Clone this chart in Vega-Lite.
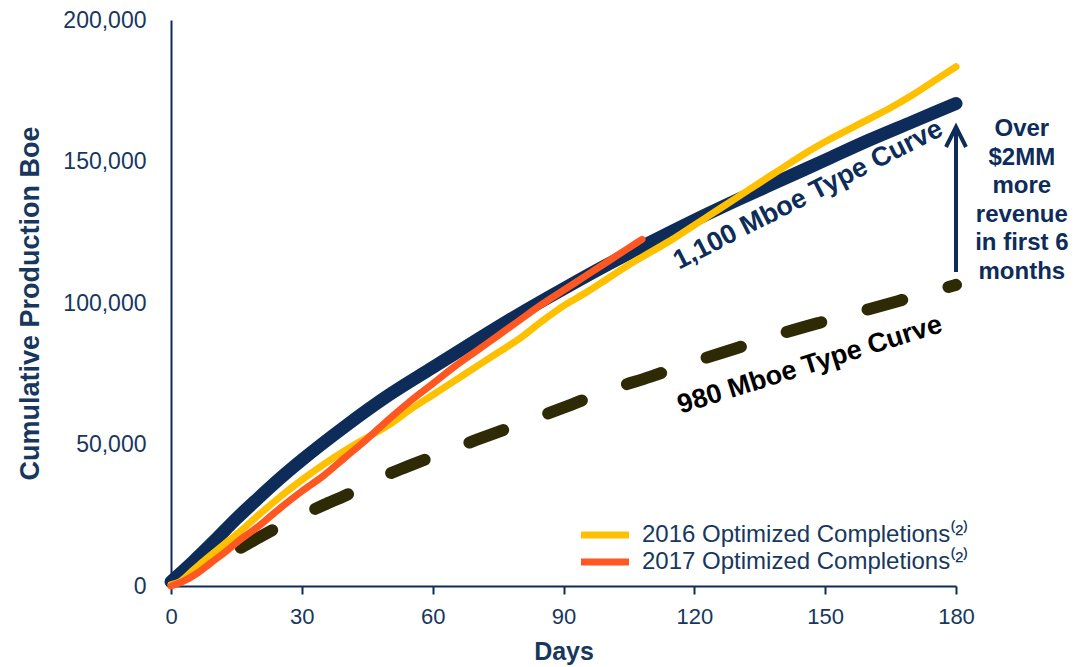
{
  "$schema": "https://vega.github.io/schema/vega-lite/v6.json",
  "width": 785,
  "height": 566,
  "autosize": {"type": "none"},
  "padding": {"left": 171, "top": 20, "right": 134, "bottom": 81},
  "background": "white",
  "config": {"view": {"stroke": null}, "font": "Liberation Sans"},
  "datasets": {
    "tc1100": [
      {"day": 0, "boe": 1500}, {"day": 5, "boe": 8500}, {"day": 10, "boe": 16000}, {"day": 15, "boe": 23800},
      {"day": 20, "boe": 31000}, {"day": 25, "boe": 38000}, {"day": 30, "boe": 44500}, {"day": 40, "boe": 56500},
      {"day": 50, "boe": 67500}, {"day": 60, "boe": 77200}, {"day": 70, "boe": 86800}, {"day": 80, "boe": 96200},
      {"day": 90, "boe": 105000}, {"day": 100, "boe": 113500}, {"day": 110, "boe": 121500}, {"day": 120, "boe": 129200},
      {"day": 130, "boe": 136500}, {"day": 140, "boe": 143500}, {"day": 150, "boe": 150500}, {"day": 160, "boe": 157500},
      {"day": 170, "boe": 164000}, {"day": 180, "boe": 170500}
    ],
    "tc980": [
      {"day": 16, "boe": 13500}, {"day": 20, "boe": 17000}, {"day": 25, "boe": 21200}, {"day": 30, "boe": 25000},
      {"day": 35, "boe": 28600}, {"day": 40, "boe": 32000}, {"day": 45, "boe": 35700}, {"day": 50, "boe": 39600},
      {"day": 55, "boe": 42700}, {"day": 60, "boe": 45700}, {"day": 70, "boe": 51600}, {"day": 80, "boe": 57300},
      {"day": 90, "boe": 63000}, {"day": 100, "boe": 69000}, {"day": 110, "boe": 74000}, {"day": 120, "boe": 79300},
      {"day": 130, "boe": 84200}, {"day": 140, "boe": 89200}, {"day": 150, "boe": 93600}, {"day": 160, "boe": 97800},
      {"day": 170, "boe": 102100}, {"day": 180, "boe": 106400}
    ],
    "wells": [
      {"series": "2016 Optimized Completions⁽²⁾", "day": 0, "boe": 500},
      {"series": "2016 Optimized Completions⁽²⁾", "day": 2, "boe": 1500},
      {"series": "2016 Optimized Completions⁽²⁾", "day": 5, "boe": 5500},
      {"series": "2016 Optimized Completions⁽²⁾", "day": 8, "boe": 9500},
      {"series": "2016 Optimized Completions⁽²⁾", "day": 12, "boe": 14500},
      {"series": "2016 Optimized Completions⁽²⁾", "day": 16, "boe": 19500},
      {"series": "2016 Optimized Completions⁽²⁾", "day": 20, "boe": 25000},
      {"series": "2016 Optimized Completions⁽²⁾", "day": 25, "boe": 31500},
      {"series": "2016 Optimized Completions⁽²⁾", "day": 30, "boe": 37500},
      {"series": "2016 Optimized Completions⁽²⁾", "day": 35, "boe": 43000},
      {"series": "2016 Optimized Completions⁽²⁾", "day": 40, "boe": 48000},
      {"series": "2016 Optimized Completions⁽²⁾", "day": 45, "boe": 52500},
      {"series": "2016 Optimized Completions⁽²⁾", "day": 50, "boe": 57000},
      {"series": "2016 Optimized Completions⁽²⁾", "day": 55, "boe": 62500},
      {"series": "2016 Optimized Completions⁽²⁾", "day": 60, "boe": 67500},
      {"series": "2016 Optimized Completions⁽²⁾", "day": 65, "boe": 72500},
      {"series": "2016 Optimized Completions⁽²⁾", "day": 70, "boe": 77500},
      {"series": "2016 Optimized Completions⁽²⁾", "day": 75, "boe": 82500},
      {"series": "2016 Optimized Completions⁽²⁾", "day": 80, "boe": 87500},
      {"series": "2016 Optimized Completions⁽²⁾", "day": 85, "boe": 93500},
      {"series": "2016 Optimized Completions⁽²⁾", "day": 90, "boe": 99000},
      {"series": "2016 Optimized Completions⁽²⁾", "day": 95, "boe": 103500},
      {"series": "2016 Optimized Completions⁽²⁾", "day": 100, "boe": 108500},
      {"series": "2016 Optimized Completions⁽²⁾", "day": 105, "boe": 113500},
      {"series": "2016 Optimized Completions⁽²⁾", "day": 110, "boe": 118000},
      {"series": "2016 Optimized Completions⁽²⁾", "day": 115, "boe": 122500},
      {"series": "2016 Optimized Completions⁽²⁾", "day": 120, "boe": 127500},
      {"series": "2016 Optimized Completions⁽²⁾", "day": 125, "boe": 132500},
      {"series": "2016 Optimized Completions⁽²⁾", "day": 130, "boe": 137500},
      {"series": "2016 Optimized Completions⁽²⁾", "day": 135, "boe": 142500},
      {"series": "2016 Optimized Completions⁽²⁾", "day": 140, "boe": 147500},
      {"series": "2016 Optimized Completions⁽²⁾", "day": 145, "boe": 152500},
      {"series": "2016 Optimized Completions⁽²⁾", "day": 150, "boe": 157000},
      {"series": "2016 Optimized Completions⁽²⁾", "day": 155, "boe": 161000},
      {"series": "2016 Optimized Completions⁽²⁾", "day": 160, "boe": 165000},
      {"series": "2016 Optimized Completions⁽²⁾", "day": 165, "boe": 169000},
      {"series": "2016 Optimized Completions⁽²⁾", "day": 170, "boe": 173500},
      {"series": "2016 Optimized Completions⁽²⁾", "day": 175, "boe": 178500},
      {"series": "2016 Optimized Completions⁽²⁾", "day": 180, "boe": 183500},
      {"series": "2017 Optimized Completions⁽²⁾", "day": 0, "boe": 0},
      {"series": "2017 Optimized Completions⁽²⁾", "day": 3, "boe": 1800},
      {"series": "2017 Optimized Completions⁽²⁾", "day": 6, "boe": 4500},
      {"series": "2017 Optimized Completions⁽²⁾", "day": 9, "boe": 8000},
      {"series": "2017 Optimized Completions⁽²⁾", "day": 12, "boe": 11500},
      {"series": "2017 Optimized Completions⁽²⁾", "day": 16, "boe": 16500},
      {"series": "2017 Optimized Completions⁽²⁾", "day": 20, "boe": 21000},
      {"series": "2017 Optimized Completions⁽²⁾", "day": 25, "boe": 27500},
      {"series": "2017 Optimized Completions⁽²⁾", "day": 30, "boe": 33500},
      {"series": "2017 Optimized Completions⁽²⁾", "day": 35, "boe": 39000},
      {"series": "2017 Optimized Completions⁽²⁾", "day": 40, "boe": 45500},
      {"series": "2017 Optimized Completions⁽²⁾", "day": 45, "boe": 52000},
      {"series": "2017 Optimized Completions⁽²⁾", "day": 50, "boe": 59000},
      {"series": "2017 Optimized Completions⁽²⁾", "day": 55, "boe": 65500},
      {"series": "2017 Optimized Completions⁽²⁾", "day": 60, "boe": 71500},
      {"series": "2017 Optimized Completions⁽²⁾", "day": 65, "boe": 77500},
      {"series": "2017 Optimized Completions⁽²⁾", "day": 70, "boe": 83000},
      {"series": "2017 Optimized Completions⁽²⁾", "day": 75, "boe": 88500},
      {"series": "2017 Optimized Completions⁽²⁾", "day": 80, "boe": 94000},
      {"series": "2017 Optimized Completions⁽²⁾", "day": 85, "boe": 99500},
      {"series": "2017 Optimized Completions⁽²⁾", "day": 90, "boe": 104500},
      {"series": "2017 Optimized Completions⁽²⁾", "day": 95, "boe": 109500},
      {"series": "2017 Optimized Completions⁽²⁾", "day": 100, "boe": 114500},
      {"series": "2017 Optimized Completions⁽²⁾", "day": 104, "boe": 118500},
      {"series": "2017 Optimized Completions⁽²⁾", "day": 108, "boe": 122500}
    ],
    "arrow": [{"day": 180, "boe": 110950, "boe2": 161200, "tip": 158660}],
    "label1100": [{"day": 146.1, "boe": 138200, "label": "1,100 Mboe Type Curve"}],
    "label980": [{"day": 146.5, "boe": 78100, "label": "980 Mboe Type Curve"}],
    "note": [{"day": 195.1, "boe": 161500, "label": "Over\n$2MM\nmore\nrevenue\nin first 6\nmonths"}]
  },
  "layer": [
    {
      "data": {"name": "tc980"},
      "mark": {"type": "line", "color": "#2f2a06", "strokeWidth": 12, "strokeDash": [36, 48], "strokeCap": "round", "interpolate": "monotone"},
      "encoding": {
        "x": {
          "field": "day", "type": "quantitative",
          "scale": {"domain": [0, 180], "nice": false},
          "axis": {
            "title": "Days", "values": [0, 30, 60, 90, 120, 150, 180], "grid": false,
            "domainColor": "#0d2c59", "domainWidth": 2, "tickColor": "#0d2c59", "tickWidth": 2, "tickSize": 8,
            "labelFont": "Liberation Sans", "labelFontSize": 22, "labelColor": "#17375e", "labelPadding": 12, "labelFlush": false,
            "titleFont": "Liberation Sans", "titleFontSize": 25, "titleFontWeight": "bold", "titleColor": "#17375e", "titlePadding": 12
          }
        },
        "y": {
          "field": "boe", "type": "quantitative",
          "scale": {"domain": [0, 200000], "nice": false},
          "axis": {
            "title": "Cumulative Production Boe", "values": [0, 50000, 100000, 150000, 200000], "format": ",d", "grid": false,
            "ticks": false, "domainColor": "#0d2c59", "domainWidth": 2,
            "labelFont": "Liberation Sans", "labelFontSize": 23, "labelColor": "#17375e", "labelPadding": 25,
            "titleFont": "Liberation Sans", "titleFontSize": 27, "titleFontWeight": "bold", "titleColor": "#17375e", "titlePadding": 18
          }
        }
      }
    },
    {
      "data": {"name": "tc1100"},
      "mark": {"type": "line", "color": "#0d2c59", "strokeWidth": 13, "strokeCap": "round", "interpolate": "monotone"},
      "encoding": {
        "x": {"field": "day", "type": "quantitative"},
        "y": {"field": "boe", "type": "quantitative"}
      }
    },
    {
      "data": {"name": "wells"},
      "mark": {"type": "line", "strokeWidth": 7, "strokeCap": "round", "interpolate": "monotone"},
      "encoding": {
        "x": {"field": "day", "type": "quantitative"},
        "y": {"field": "boe", "type": "quantitative"},
        "color": {
          "field": "series", "type": "nominal",
          "scale": {"domain": ["2016 Optimized Completions⁽²⁾", "2017 Optimized Completions⁽²⁾"], "range": ["#ffc000", "#ff5722"]},
          "legend": {
            "title": null, "orient": "none", "legendX": 422, "legendY": 503, "padding": 0,
            "symbolType": "M-6,0L6,0", "symbolSize": 64, "symbolStrokeWidth": 7,
            "labelFont": "Liberation Sans", "labelFontSize": 24, "labelColor": "#17375e", "labelOffset": 25,
            "rowPadding": -1, "labelLimit": 500
          }
        }
      }
    },
    {
      "data": {"name": "arrow"},
      "mark": {"type": "rule", "color": "#0d2c59", "strokeWidth": 4},
      "encoding": {
        "x": {"field": "day", "type": "quantitative"},
        "y": {"field": "boe", "type": "quantitative"},
        "y2": {"field": "boe2"}
      }
    },
    {
      "data": {"name": "arrow"},
      "mark": {"type": "point", "shape": "M-1,1L0,-1L1,1", "filled": false, "color": "#0d2c59", "strokeWidth": 4, "size": 400, "opacity": 1},
      "encoding": {
        "x": {"field": "day", "type": "quantitative"},
        "y": {"field": "tip", "type": "quantitative"}
      }
    },
    {
      "data": {"name": "label1100"},
      "mark": {"type": "text", "angle": 333, "font": "Liberation Sans", "fontSize": 27, "fontWeight": "bold", "color": "#0d2c59", "align": "center", "baseline": "middle"},
      "encoding": {
        "x": {"field": "day", "type": "quantitative"},
        "y": {"field": "boe", "type": "quantitative"},
        "text": {"field": "label"}
      }
    },
    {
      "data": {"name": "label980"},
      "mark": {"type": "text", "angle": 342.6, "font": "Liberation Sans", "fontSize": 27, "fontWeight": "bold", "color": "#000000", "align": "center", "baseline": "middle"},
      "encoding": {
        "x": {"field": "day", "type": "quantitative"},
        "y": {"field": "boe", "type": "quantitative"},
        "text": {"field": "label"}
      }
    },
    {
      "data": {"name": "note"},
      "mark": {"type": "text", "lineBreak": "\n", "lineHeight": 28.6, "font": "Liberation Sans", "fontSize": 24, "fontWeight": "bold", "color": "#0d2c59", "align": "center", "baseline": "middle", "clip": false},
      "encoding": {
        "x": {"field": "day", "type": "quantitative"},
        "y": {"field": "boe", "type": "quantitative"},
        "text": {"field": "label"}
      }
    }
  ]
}
